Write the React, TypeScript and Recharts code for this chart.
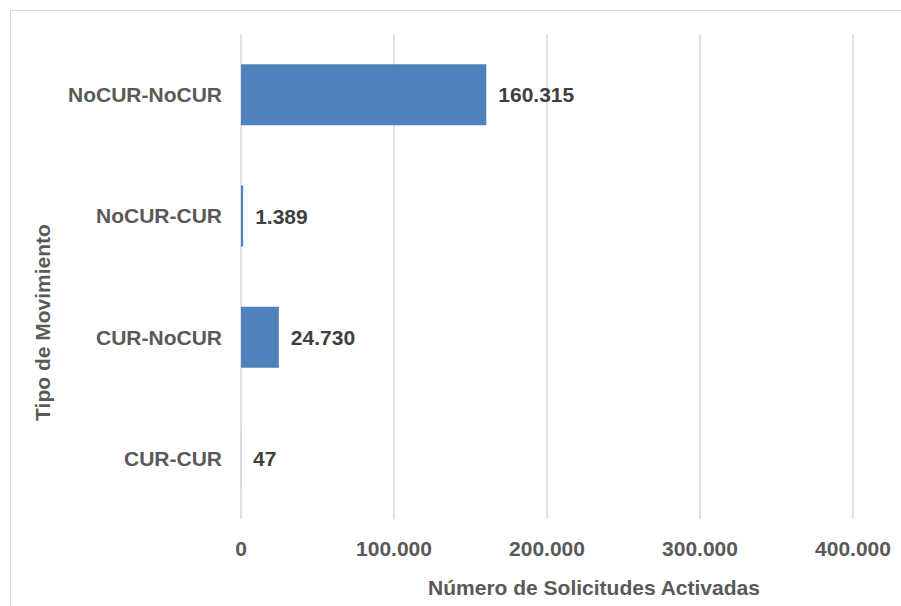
import React from 'react';
import { BarChart, Bar, XAxis, YAxis, CartesianGrid, LabelList, Label } from 'recharts';

const categories = ['NoCUR-NoCUR', 'NoCUR-CUR', 'CUR-NoCUR', 'CUR-CUR'];
const values = [160315, 1389, 24730, 47];
const xTicks = [0, 100000, 200000, 300000, 400000];

const data = categories.map((c, i) => ({ name: c, value: values[i] }));

const fmt = (v: any) => String(v).replace(/\B(?=(\d{3})+(?!\d))/g, '.');

const FONT = 'Arial, "Liberation Sans", sans-serif';

const YTitle = (props: any) => {
  const vb = props.viewBox || { x: 0, y: 0, width: 0, height: 0 };
  const cx = vb.x + 42;
  const cy = vb.y + vb.height / 2 + 46;
  return (
    <text
      x={cx}
      y={cy}
      transform={`rotate(-90, ${cx}, ${cy})`}
      textAnchor="middle"
      dominantBaseline="central"
      fill="#595959"
      fontFamily={FONT}
      fontWeight="bold"
      fontSize={21}
    >
      Tipo de Movimiento
    </text>
  );
};

export default function App() {
  return (
    <div style={{ position: 'absolute', left: 0, top: 0, width: 901, height: 606, overflow: 'hidden', background: '#fff' }}>
      <div style={{ position: 'absolute', left: 10, top: 10, width: 1000, height: 1000, border: '1px solid #d9d9d9', boxSizing: 'border-box' }} />
      <div style={{ position: 'absolute', left: 0, top: 0 }}>
        <BarChart
          width={901}
          height={606}
          data={data}
          layout="vertical"
          margin={{ top: 34, right: 48, left: 0, bottom: 7 }}
          barCategoryGap="25%"
        >
          <CartesianGrid horizontal={false} stroke="#d9d9d9" strokeWidth={1.5} />
          <XAxis
            type="number"
            domain={[0, 400000]}
            ticks={xTicks}
            tickFormatter={fmt}
            axisLine={false}
            tickLine={false}
            tickSize={0}
            tickMargin={22}
            height={80}
            tick={{ fill: '#595959', fontFamily: FONT, fontWeight: 'bold', fontSize: 21 }}
          >
            <Label
              value="Número de Solicitudes Activadas"
              position="insideBottom"
              offset={4}
              dx={47}
              fill="#595959"
              fontFamily={FONT}
              fontWeight="bold"
              fontSize={21}
            />
          </XAxis>
          <YAxis
            type="category"
            dataKey="name"
            width={241}
            axisLine={false}
            tickLine={false}
            tickSize={0}
            tickMargin={19}
            tick={{ fill: '#595959', fontFamily: FONT, fontWeight: 'bold', fontSize: 21 }}
          >
            <Label content={<YTitle />} />
          </YAxis>
          <Bar dataKey="value" fill="#4F81BD" isAnimationActive={false}>
            <LabelList
              dataKey="value"
              position="right"
              offset={12}
              formatter={fmt}
              fill="#404040"
              fontFamily={FONT}
              fontWeight="bold"
              fontSize={21}
            />
          </Bar>
        </BarChart>
      </div>
    </div>
  );
}
